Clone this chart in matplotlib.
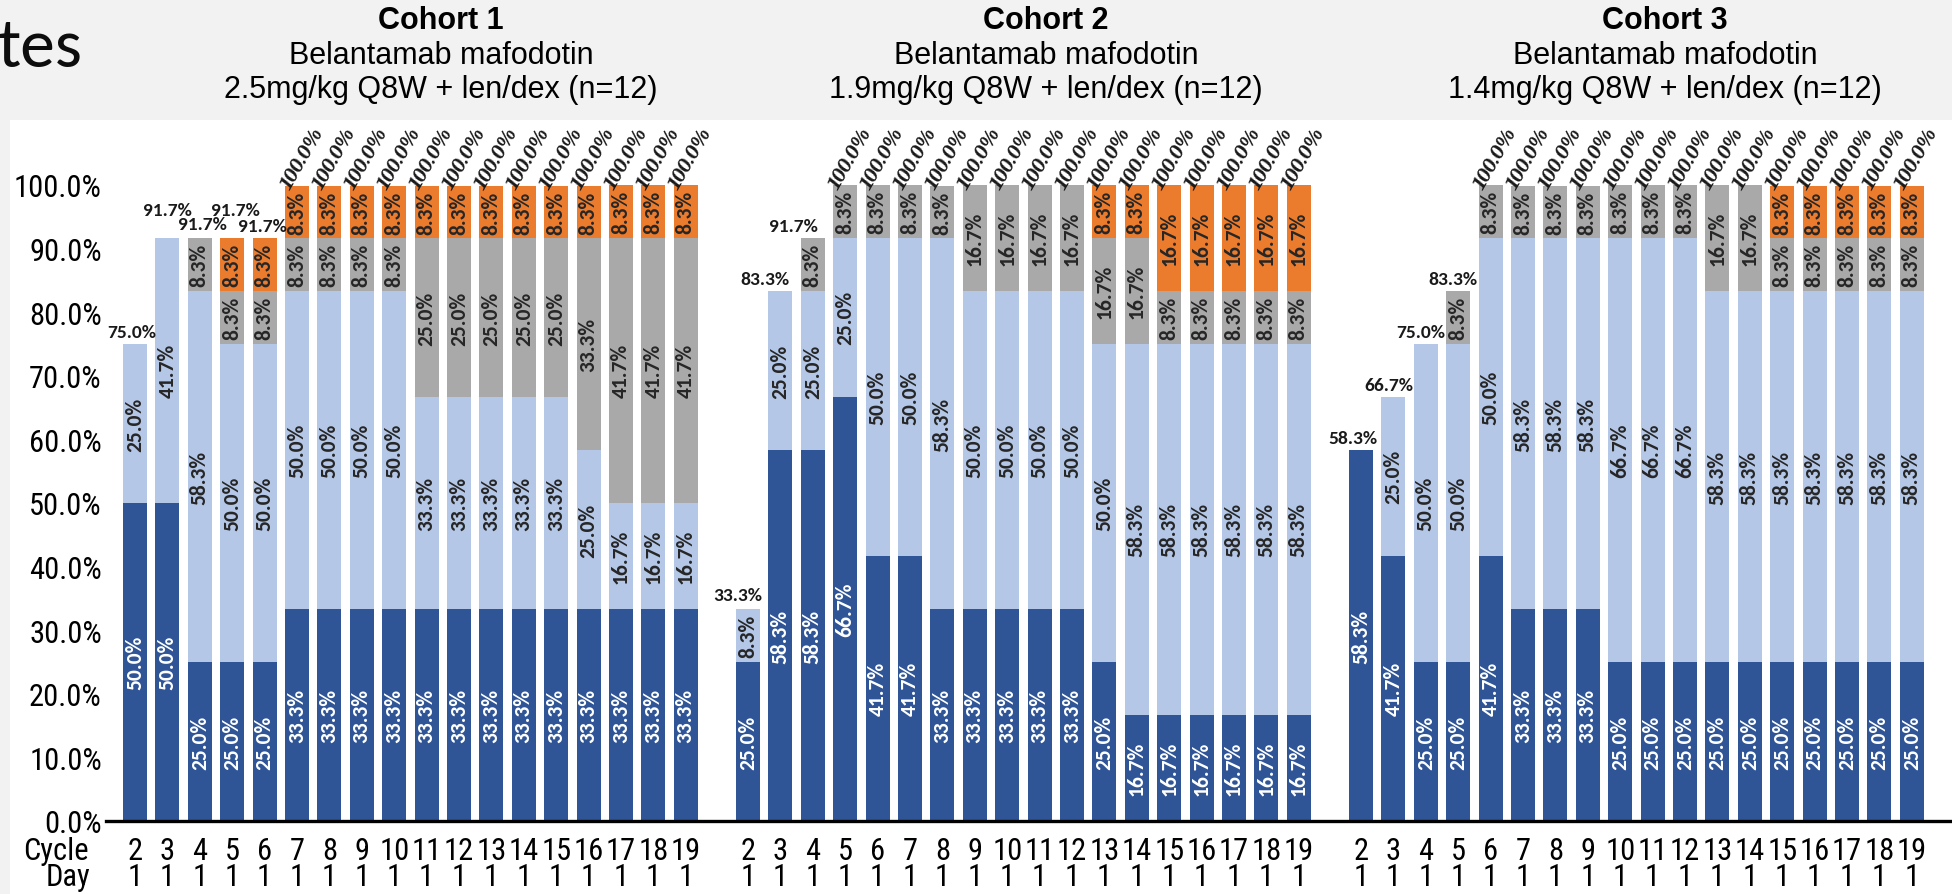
import numpy as np
import matplotlib
matplotlib.use("Agg")
import matplotlib.pyplot as plt
from matplotlib import font_manager as fm
from matplotlib.patches import Rectangle

# ---------------------------------------------------------------- data
cycles = [2, 3, 4, 5, 6, 7, 8, 9, 10, 11, 12, 13, 14, 15, 16, 17, 18, 19]

cohort_titles = ["Cohort 1", "Cohort 2", "Cohort 3"]
cohort_doses = [
    "2.5mg/kg Q8W + len/dex (n=12)",
    "1.9mg/kg Q8W + len/dex (n=12)",
    "1.4mg/kg Q8W + len/dex (n=12)",
]
drug_name = "Belantamab mafodotin"

# Cohort 1
c1_dark = [50.0, 50.0, 25.0, 25.0, 25.0, 33.3, 33.3, 33.3, 33.3, 33.3, 33.3, 33.3, 33.3, 33.3, 33.3, 33.3, 33.3, 33.3]
c1_light = [25.0, 41.7, 58.3, 50.0, 50.0, 50.0, 50.0, 50.0, 50.0, 33.3, 33.3, 33.3, 33.3, 33.3, 25.0, 16.7, 16.7, 16.7]
c1_gray = [0.0, 0.0, 8.3, 8.3, 8.3, 8.3, 8.3, 8.3, 8.3, 25.0, 25.0, 25.0, 25.0, 25.0, 33.3, 41.7, 41.7, 41.7]
c1_orange = [0.0, 0.0, 0.0, 8.3, 8.3, 8.3, 8.3, 8.3, 8.3, 8.3, 8.3, 8.3, 8.3, 8.3, 8.3, 8.3, 8.3, 8.3]
c1_total = [75.0, 91.7, 91.7, 91.7, 91.7, 100.0, 100.0, 100.0, 100.0, 100.0, 100.0, 100.0, 100.0, 100.0, 100.0, 100.0, 100.0, 100.0]

# Cohort 2
c2_dark = [25.0, 58.3, 58.3, 66.7, 41.7, 41.7, 33.3, 33.3, 33.3, 33.3, 33.3, 25.0, 16.7, 16.7, 16.7, 16.7, 16.7, 16.7]
c2_light = [8.3, 25.0, 25.0, 25.0, 50.0, 50.0, 58.3, 50.0, 50.0, 50.0, 50.0, 50.0, 58.3, 58.3, 58.3, 58.3, 58.3, 58.3]
c2_gray = [0.0, 0.0, 8.3, 8.3, 8.3, 8.3, 8.3, 16.7, 16.7, 16.7, 16.7, 16.7, 16.7, 8.3, 8.3, 8.3, 8.3, 8.3]
c2_orange = [0.0, 0.0, 0.0, 0.0, 0.0, 0.0, 0.0, 0.0, 0.0, 0.0, 0.0, 8.3, 8.3, 16.7, 16.7, 16.7, 16.7, 16.7]
c2_total = [33.3, 83.3, 91.7, 100.0, 100.0, 100.0, 100.0, 100.0, 100.0, 100.0, 100.0, 100.0, 100.0, 100.0, 100.0, 100.0, 100.0, 100.0]

# Cohort 3
c3_dark = [58.3, 41.7, 25.0, 25.0, 41.7, 33.3, 33.3, 33.3, 25.0, 25.0, 25.0, 25.0, 25.0, 25.0, 25.0, 25.0, 25.0, 25.0]
c3_light = [0.0, 25.0, 50.0, 50.0, 50.0, 58.3, 58.3, 58.3, 66.7, 66.7, 66.7, 58.3, 58.3, 58.3, 58.3, 58.3, 58.3, 58.3]
c3_gray = [0.0, 0.0, 0.0, 8.3, 8.3, 8.3, 8.3, 8.3, 8.3, 8.3, 8.3, 16.7, 16.7, 8.3, 8.3, 8.3, 8.3, 8.3]
c3_orange = [0.0, 0.0, 0.0, 0.0, 0.0, 0.0, 0.0, 0.0, 0.0, 0.0, 0.0, 0.0, 0.0, 8.3, 8.3, 8.3, 8.3, 8.3]
c3_total = [58.3, 66.7, 75.0, 83.3, 100.0, 100.0, 100.0, 100.0, 100.0, 100.0, 100.0, 100.0, 100.0, 100.0, 100.0, 100.0, 100.0, 100.0]

cohorts = [
    ([c1_dark, c1_light, c1_gray, c1_orange], c1_total),
    ([c2_dark, c2_light, c2_gray, c2_orange], c2_total),
    ([c3_dark, c3_light, c3_gray, c3_orange], c3_total),
]

# ---------------------------------------------------------------- style
W, H = 1952, 895
DPI = 100
PX = 72.0 / DPI  # points per pixel

seg_colors = ["#2F5597", "#B4C7E7", "#A9A9A9", "#EB7B2D"]
seg_text_colors = ["white", "#262626", "#262626", "#262626"]

names = {f.name for f in fm.fontManager.ttflist}


def pick(*cands):
    for c in cands:
        if c in names:
            return c
    return "DejaVu Sans"


narrow_font = pick("Liberation Sans Narrow", "Arial Narrow", "Roboto Condensed",
                   "Open Sans Condensed", "Liberation Sans")
narrow_scale = 1.0 if ("Narrow" in narrow_font or "Condensed" in narrow_font) else 0.84
sans_font = pick("Liberation Sans", "Arial", "DejaVu Sans")
label_font = pick("Carlito", "Lato", "Open Sans")
serif_font = pick("Caladea", "Liberation Serif", "DejaVu Serif")

tick_size = 22 * narrow_scale
title_size = 22
seg_size = 15.5
total_size = 14.0
top_size = 15.0

bar_width = 0.74
group_gap = 0.92

# offsets (px) for totals below 100 %, staggered so neighbours do not collide
total_offsets = {
    (0, 2): (-3, 12), (0, 3): (0, 28), (0, 4): (3, 14), (0, 5): (3, 28), (0, 6): (-2, 12),
    (1, 2): (-10, 14), (1, 3): (-15, 12), (1, 4): (-19, 12),
    (2, 2): (-8, 12), (2, 3): (-5, 12), (2, 4): (-5, 12), (2, 5): (-5, 12),
}

title_centers_px = [441, 1046, 1665]

# ---------------------------------------------------------------- figure
fig = plt.figure(figsize=(W / DPI, H / DPI), dpi=DPI, facecolor="#F2F2F2")
fig.add_artist(Rectangle((10 / W, 0), (W - 10) / W, (H - 121) / H,
                         transform=fig.transFigure, facecolor="white",
                         edgecolor="none", zorder=0))

# slide heading fragment at the top left
fig.text(-2 / W, 1 - 67 / H, "tes", fontsize=50, family=label_font,
         color="#0D0D0D", ha="left", va="baseline")

ax = fig.add_axes([106 / W, (H - 822) / H, (W - 106) / W, 636 / H])
ax.set_facecolor("none")

for g, (segments, totals) in enumerate(cohorts):
    x = np.arange(len(cycles)) + g * (len(cycles) + group_gap)
    bottom = np.zeros(len(cycles))
    for k, vals in enumerate(segments):
        vals = np.asarray(vals)
        ax.bar(x, vals, width=bar_width, bottom=bottom, color=seg_colors[k],
               edgecolor="none", zorder=2)
        for xi, b, v in zip(x, bottom, vals):
            if v > 0:
                ax.text(xi, b + v / 2, f"{v:.1f}%", rotation=90, ha="center",
                        va="center", color=seg_text_colors[k], family=label_font,
                        weight="bold", fontsize=seg_size, zorder=3)
        bottom = bottom + vals

    for xi, c, t in zip(x, cycles, totals):
        if t >= 100:
            ax.annotate(f"{t:.1f}%", (xi, t), xytext=(5 * PX, 27 * PX),
                        textcoords="offset points", rotation=60, ha="center",
                        va="center", rotation_mode="anchor", family=serif_font,
                        style="italic", weight="bold", fontsize=top_size,
                        color="#1A1A1A", annotation_clip=False)
        else:
            dx, dy = total_offsets.get((g, c), (0, 12))
            ax.annotate(f"{t:.1f}%", (xi, t), xytext=(dx * PX, dy * PX),
                        textcoords="offset points", ha="center", va="center",
                        family=label_font, weight="bold", fontsize=total_size,
                        color="#1A1A1A", annotation_clip=False)

    # cycle / day rows under the axis
    for xi, c in zip(x, cycles):
        ax.annotate(str(c), (xi, 0), xytext=(0, -30 * PX), textcoords="offset points",
                    ha="center", va="center", family=narrow_font, fontsize=tick_size,
                    annotation_clip=False)
        ax.annotate("1", (xi, 0), xytext=(0, -56 * PX), textcoords="offset points",
                    ha="center", va="center", family=narrow_font, fontsize=tick_size,
                    annotation_clip=False)

    # cohort headings
    cx = title_centers_px[g] / W
    fig.text(cx, 1 - 21 / H, cohort_titles[g], ha="center", va="center",
             family=sans_font, weight="bold", fontsize=title_size)
    fig.text(cx, 1 - 56 / H, drug_name, ha="center", va="center",
             family=sans_font, fontsize=title_size)
    fig.text(cx, 1 - 90 / H, cohort_doses[g], ha="center", va="center",
             family=sans_font, fontsize=title_size)

fig.text(89 / W, 1 - 852 / H, "Cycle", ha="right", va="center",
         family=narrow_font, fontsize=tick_size)
fig.text(90 / W, 1 - 878 / H, "Day", ha="right", va="center",
         family=narrow_font, fontsize=tick_size)

ax.set_xlim(-0.895, 56.08)
ax.set_ylim(0, 100)
ax.set_xticks([])
yt = np.arange(0, 101, 10)
ax.set_yticks(yt)
ax.set_yticklabels([f"{v:.1f}%" for v in yt], family=narrow_font, fontsize=tick_size)
ax.tick_params(axis="y", length=0, pad=3)
for side in ("left", "top", "right"):
    ax.spines[side].set_visible(False)
ax.spines["bottom"].set_linewidth(2.4)
ax.spines["bottom"].set_color("black")
ax.spines["bottom"].set_zorder(4)

fig.savefig("out.png", dpi=DPI, facecolor=fig.get_facecolor())
